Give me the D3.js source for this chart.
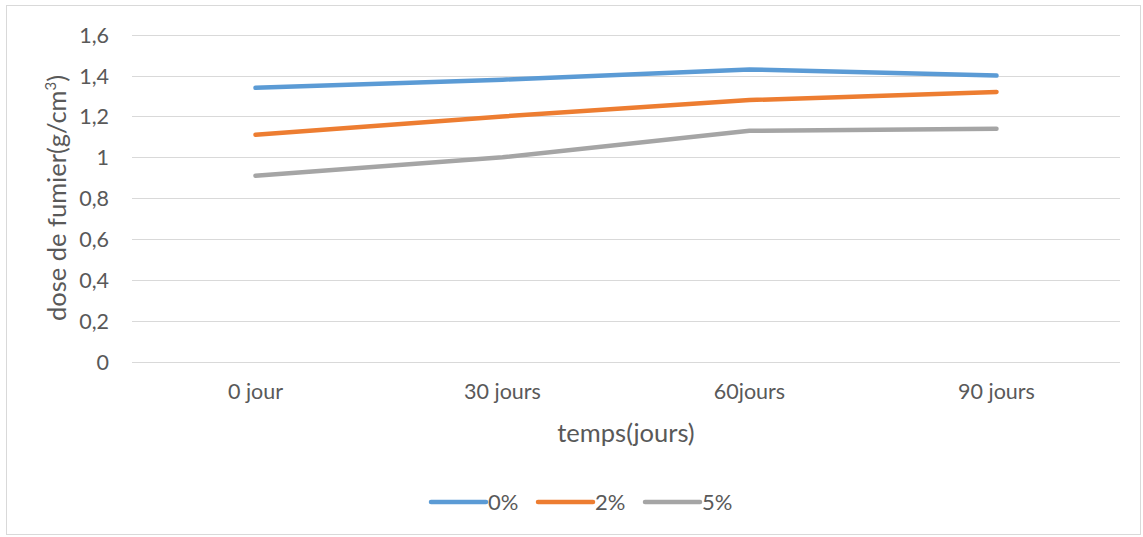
<!DOCTYPE html>
<html><head><meta charset="utf-8">
<script src="https://cdn.jsdelivr.net/npm/d3@7"></script>
<style>body{margin:0;background:#fff;} text{font-family:"Lato","Open Sans",sans-serif;fill:#595959;}</style>
</head><body><svg id="c" width="1143" height="537"></svg>
<script>
const categories = ["0 jour","30 jours","60jours","90 jours"];
const seriesNames = ["0%","2%","5%"];
const s0 = [1.34,1.38,1.43,1.40];
const s2 = [1.11,1.20,1.28,1.32];
const s5 = [0.91,1.00,1.13,1.14];
const yTicks = [0,0.2,0.4,0.6,0.8,1,1.2,1.4,1.6];
const colors = ["#5B9BD5","#ED7D31","#A5A5A5"];
const series = [s0,s2,s5];

const svg = d3.select("#c");
svg.append("rect").attr("x",6.5).attr("y",5.5).attr("width",1134).attr("height",529)
  .attr("fill","#fff").attr("stroke","#D9D9D9").attr("stroke-width",1);

const x = d3.scaleBand().domain(categories).range([132,1120]);
const y = d3.scaleLinear().domain([0,1.6]).range([361.7,34.7]);
const fmt = d => String(d).replace(".",",");

const g = svg.append("g");
g.selectAll("line.grid").data(yTicks).enter().append("line")
  .attr("x1",132).attr("x2",1120)
  .attr("y1",d=>Math.round(y(d))+0.5).attr("y2",d=>Math.round(y(d))+0.5)
  .attr("stroke","#D9D9D9").attr("stroke-width",1);

const yAxis = d3.axisLeft(y).tickValues(yTicks).tickFormat(fmt).tickSize(0).tickPadding(0);
const ya = svg.append("g").attr("transform","translate(109,0)").call(yAxis);
ya.select(".domain").remove();
ya.selectAll("text").style("font-size","21.5px").style("font-family","Lato").attr("fill","#595959").attr("dy","0.35em");

const xAxis = d3.axisBottom(x).tickSize(0).tickPadding(0);
const xa = svg.append("g").attr("transform","translate(0,384)").call(xAxis);
xa.select(".domain").remove();
xa.selectAll("text").style("font-size","21.5px").style("font-family","Lato").attr("fill","#595959").attr("dy","0.71em");

const line = d3.line().x((d,i)=>x(categories[i])+x.bandwidth()/2).y(d=>y(d));
series.forEach((s,k)=>{
  svg.append("path").datum(s).attr("d",line).attr("fill","none")
    .attr("stroke",colors[k]).attr("stroke-width",4.5).attr("stroke-linecap","round").attr("stroke-linejoin","round");
});

svg.append("text").attr("transform","translate(66,198) rotate(-90)").attr("text-anchor","middle")
  .style("font-size","25.5px").html('dose de fumier(g/cm<tspan dy="-10" style="font-size:15px">3</tspan><tspan dy="10">)</tspan>');
svg.append("text").attr("x",626).attr("y",442).attr("text-anchor","middle").style("font-size","25.5px").text("temps(jours)");

const lx = [431,538,645];
seriesNames.forEach((n,k)=>{
  svg.append("line").attr("x1",lx[k]).attr("x2",lx[k]+55).attr("y1",502).attr("y2",502)
    .attr("stroke",colors[k]).attr("stroke-width",4.5).attr("stroke-linecap","round");
  svg.append("text").attr("x",lx[k]+57).attr("y",502).attr("dy","0.35em").style("font-size","22px").text(n);
});
</script></body></html>
